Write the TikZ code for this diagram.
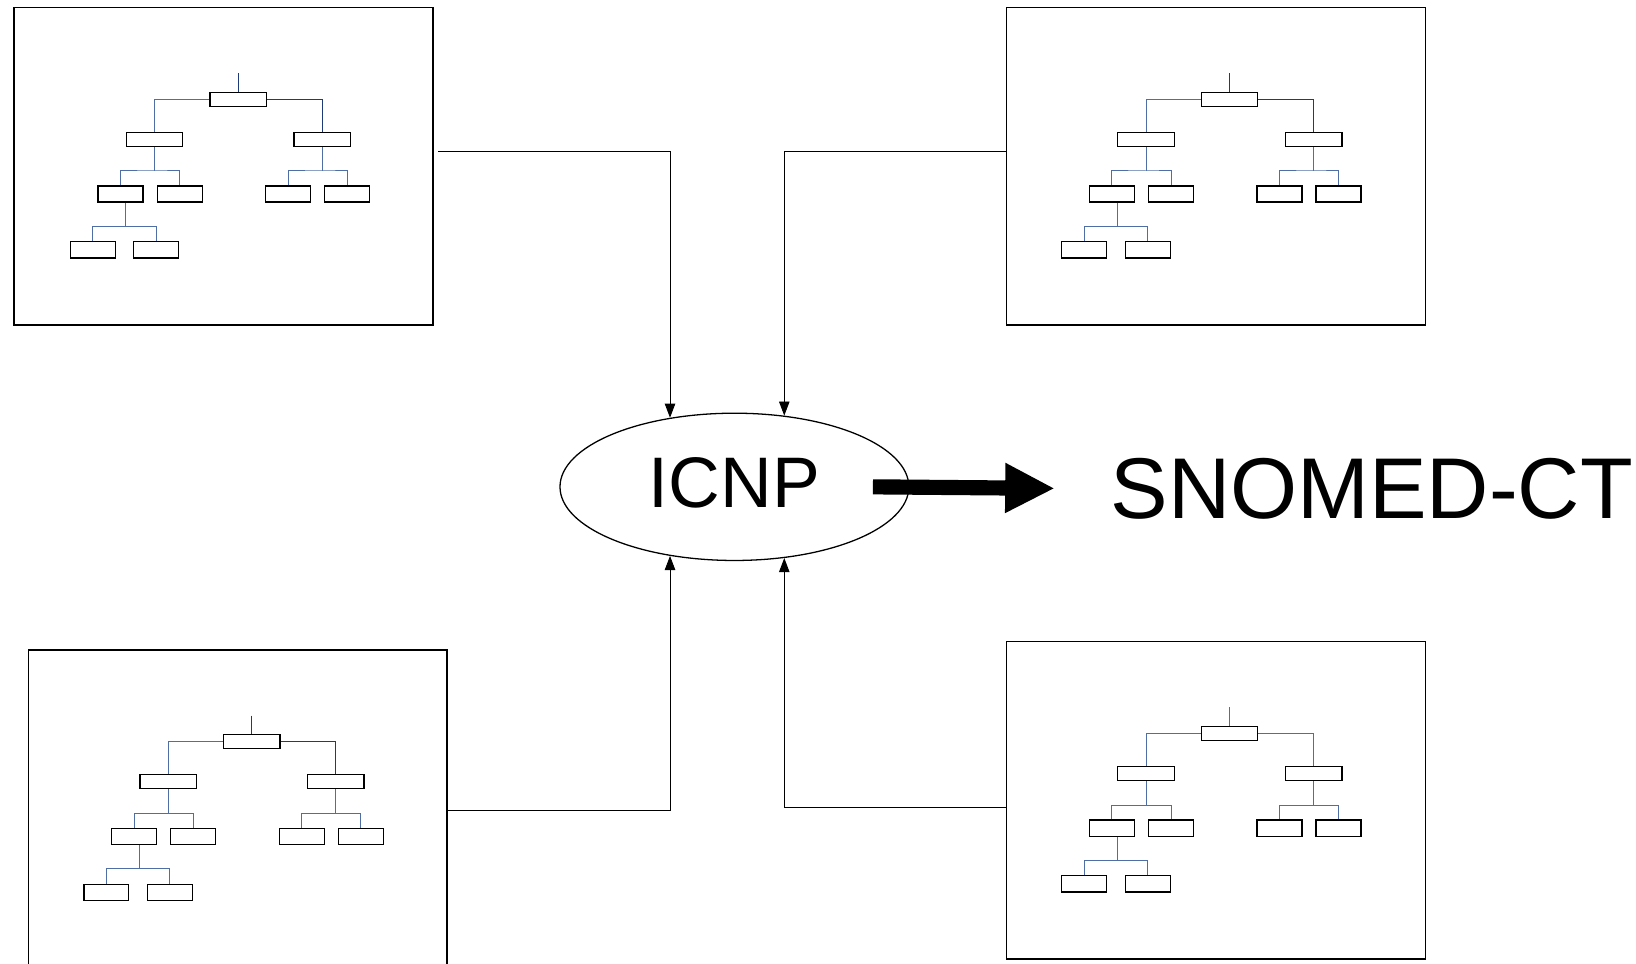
\documentclass[tikz,border=0pt]{standalone}
\usepackage{fontspec}
\setmainfont{Liberation Sans}
\usepackage{tikz}
\usetikzlibrary{shapes.geometric,arrows.meta}

\definecolor{treeline}{RGB}{79,110,165}
\definecolor{treedark}{RGB}{31,58,120}

\tikzset{
  frame/.style={draw,line width=0.8pt,minimum width=8.02cm,minimum height=6.08cm,inner sep=0pt},
  bigbox/.style={draw,line width=0.7pt,minimum width=1.08cm,minimum height=0.27cm,inner sep=0pt},
  smallbox/.style={draw,line width=0.7pt,minimum width=0.86cm,minimum height=0.31cm,inner sep=0pt},
  branch/.style={treeline,line width=0.55pt},
  conn/.style={-{Triangle[length=2.7mm,width=2mm]},line width=0.5pt},
  bigarrow/.style={-{Triangle[length=0.95cm,width=0.89cm]},line width=0.29cm}
}

\begin{document}
\begin{tikzpicture}[x=0.02cm,y=-0.02cm]
  \useasboundingbox (0,0) rectangle (1566,921.8);
  % the four hierarchies
  \node[frame] (frameTL) at (214,159) {};
  \node[frame] (frameTR) at (1164,159) {};
  \node[frame] (frameBL) at (227.5,774) {};
  \node[frame] (frameBR) at (1164,766) {};
  \foreach \t/\tx/\ty/\dk in {a/228/70/treedark,b/1177/70/treedark,c/241/685/treedark,d/1177/677/treeline}{
    \begin{scope}[shift={(\tx,\ty)}]
      \coordinate (\t-top) at (0,0);
      \node[bigbox] (\t-root) at (0,25) {};
      \node[bigbox] (\t-l) at (-80,63.3) {};
      \node[bigbox] (\t-r) at (80.5,63.3) {};
      \node[smallbox] (\t-ll) at (-112.6,115.7) {};
      \node[smallbox] (\t-lr) at (-56,115.7) {};
      \node[smallbox] (\t-rl) at (47.8,115.7) {};
      \node[smallbox] (\t-rr) at (104.3,115.7) {};
      \node[smallbox] (\t-lll) at (-139.2,169.1) {};
      \node[smallbox] (\t-llr) at (-78.4,169.1) {};
      \draw[branch,\dk,line width=0.7pt] (\t-top) -- (\t-root.north);
      \draw[branch] (\t-root.west) -| (\t-l.north);
      \draw[branch,\dk] (\t-root.east) -| (\t-r.north);
      \draw[branch] (\t-l.south) -- ++(0,23) coordinate (\t-lb);
      \draw[branch] (\t-ll.north) |- (\t-lb) -| (\t-lr.north);
      \draw[branch] (\t-r.south) -- ++(0,23) coordinate (\t-rb);
      \draw[branch] (\t-rl.north) |- (\t-rb) -| (\t-rr.north);
      \draw[branch] ([xshift=0.1cm]\t-ll.south) -- ++(0,22.6) coordinate (\t-llb);
      \draw[branch] (\t-lll.north) |- (\t-llb) -| (\t-llr.north);
    \end{scope}}
  % centre
  \node[ellipse,draw,line width=0.7pt,minimum width=6.68cm,minimum height=2.82cm,inner sep=0pt,
        text depth=0.16cm,font=\fontsize{39}{47}\selectfont] (icnp) at (703,466) {ICNP};
  \node[inner sep=0pt,font=\fontsize{47}{56}\selectfont] (snomed) at (1313,467.5) {SNOMED-CT};
  \draw[conn] ([xshift=0.09cm,yshift=0.28cm]frameTL.east) -| (icnp.133);
  \draw[conn] ([yshift=0.28cm]frameTR.west) -| (icnp.55);
  \draw[conn] ([yshift=-0.04cm]frameBL.east) -| (icnp.227);
  \draw[conn] ([yshift=-0.14cm]frameBR.west) -| (icnp.305);
  \draw[bigarrow] ([xshift=-0.7cm]icnp.east) -- ([xshift=-1.06cm]snomed.west);
\end{tikzpicture}
\end{document}
